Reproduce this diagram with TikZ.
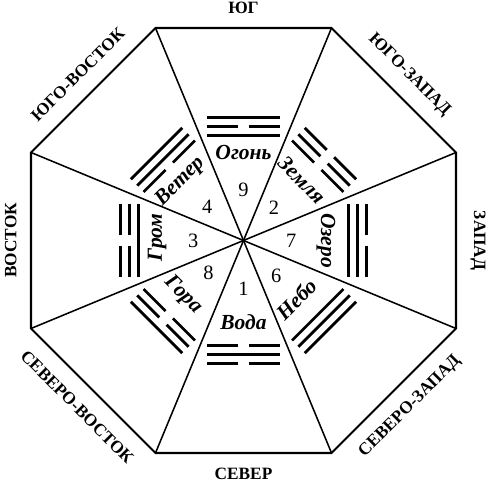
\documentclass[tikz,border=0pt]{standalone}
\usepackage{fontspec}
\setmainfont{Liberation Serif}

\newcommand{\yangline}[1]{\draw[yao] (-0.91, #1) -- (0.91, #1);}
\newcommand{\yinline}[1]{\draw[yao] (-0.91, #1) -- (-0.13, #1) (0.13, #1) -- (0.91, #1);}

\begin{document}
\begin{tikzpicture}[
    side/.style = {font=\fontsize{12.3}{14}\selectfont\bfseries},
    sector/.style = {font=\fontsize{15.3}{18}\selectfont\bfseries\itshape},
    num/.style = {font=\fontsize{14.5}{17}\selectfont},
    yao/.style = {line width=2pt}
  ]

    \useasboundingbox (-6.0875, -6.2625) rectangle (6.2625, 6.0125);

    \coordinate (O) at (0, 0);

    \coordinate (V1) at (22.5:5.75);
    \coordinate (V2) at (67.5:5.75);
    \coordinate (V3) at (112.5:5.75);
    \coordinate (V4) at (157.5:5.75);
    \coordinate (V5) at (202.5:5.75);
    \coordinate (V6) at (247.5:5.75);
    \coordinate (V7) at (292.5:5.75);
    \coordinate (V8) at (337.5:5.75);

    \draw[line width=1.5pt] (V1) -- (V2) -- (V3) -- (V4) -- (V5) -- (V6) -- (V7) -- (V8) -- cycle;

    \draw[line width=1.1pt] (O) -- (V1);
    \draw[line width=1.1pt] (O) -- (V2);
    \draw[line width=1.1pt] (O) -- (V3);
    \draw[line width=1.1pt] (O) -- (V4);
    \draw[line width=1.1pt] (O) -- (V5);
    \draw[line width=1.1pt] (O) -- (V6);
    \draw[line width=1.1pt] (O) -- (V7);
    \draw[line width=1.1pt] (O) -- (V8);

    % sides of the world
    \node[side] (south) at (90:5.82) {ЮГ};
    \node[side, rotate=-45] (southwest) at (45:5.86) {ЮГО-ЗАПАД};
    \node[side, rotate=-90] (west) at (0:5.86) {ЗАПАД};
    \node[side, rotate=45] (northwest) at (-45:5.88) {СЕВЕРО-ЗАПАД};
    \node[side] (north) at (-90:5.84) {СЕВЕР};
    \node[side, rotate=-45] (northeast) at (-135:5.88) {СЕВЕРО-ВОСТОК};
    \node[side, rotate=90] (east) at (180:5.82) {ВОСТОК};
    \node[side, rotate=45] (southeast) at (135:5.86) {ЮГО-ВОСТОК};

    % numbers
    \node[num] (n9) at (90:1.26) {9};
    \node[num] (n2) at (47:1.12) {2};
    \node[num] (n7) at (0:1.19) {7};
    \node[num] (n6) at (-47:1.2) {6};
    \node[num] (n1) at (-90:1.21) {1};
    \node[num] (n8) at (-137:1.2) {8};
    \node[num] (n3) at (180:1.26) {3};
    \node[num] (n4) at (137:1.24) {4};

    % names
    \node[sector] (fire) at (90:2.19) {Огонь};
    \node[sector, rotate=-45] (earth) at (46:2.1) {Земля};
    \node[sector, rotate=-90] (lake) at (0:2.06) {Озеро};
    \node[sector, rotate=45] (heaven) at (-48:1.97) {Небо};
    \node[sector] (water) at (-90:2.04) {Вода};
    \node[sector, rotate=-45] (mountain) at (-138:2.04) {Гора};
    \node[sector, rotate=90] (thunder) at (178:2.16) {Гром};
    \node[sector, rotate=45] (wind) at (137:2.16) {Ветер};

    % trigrams
    \begin{scope}[rotate=0]
      \yangline{2.625} \yinline{2.85} \yangline{3.075}
    \end{scope}
    \begin{scope}[rotate=-45]
      \yinline{2.625} \yinline{2.85} \yinline{3.075}
    \end{scope}
    \begin{scope}[rotate=-90]
      \yangline{2.625} \yangline{2.85} \yinline{3.075}
    \end{scope}
    \begin{scope}[rotate=-135]
      \yangline{2.625} \yangline{2.85} \yangline{3.075}
    \end{scope}
    \begin{scope}[rotate=180]
      \yinline{2.625} \yangline{2.85} \yinline{3.075}
    \end{scope}
    \begin{scope}[rotate=135]
      \yinline{2.625} \yinline{2.85} \yangline{3.075}
    \end{scope}
    \begin{scope}[rotate=90]
      \yangline{2.625} \yinline{2.85} \yinline{3.075}
    \end{scope}
    \begin{scope}[rotate=45]
      \yinline{2.625} \yangline{2.85} \yangline{3.075}
    \end{scope}

  \end{tikzpicture}
\end{document}
